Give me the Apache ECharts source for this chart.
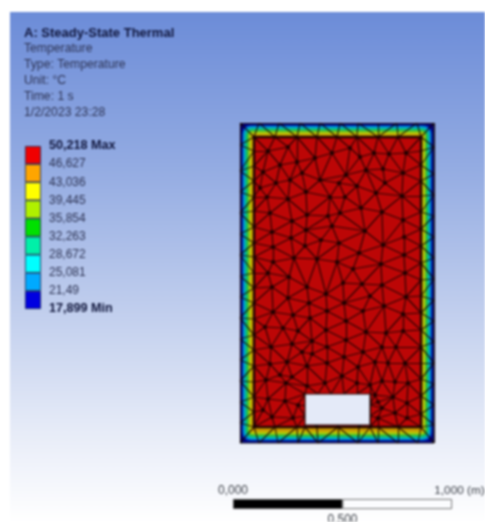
<!DOCTYPE html>
<html>
<head>
<meta charset="utf-8">
<title>Steady-State Thermal</title>
<script src="https://cdn.jsdelivr.net/npm/echarts@6/dist/echarts.min.js"></script>
<style>
  html, body { margin: 0; padding: 0; background: #fff; overflow: hidden; }
  #chart { width: 485px; height: 522px; filter: blur(0.8px); }
</style>
</head>
<body>
<div id="chart"></div>
<script>
var headerLines = ['A: Steady-State Thermal', 'Temperature', 'Type: Temperature', 'Unit: °C', 'Time: 1 s', '1/2/2023 23:28'];

// legend, bottom to top
var tempLabels = ['17,899 Min', '21,49', '25,081', '28,672', '32,263', '35,854', '39,445', '43,036', '46,627', '50,218 Max'];
var binNames = ['b1', 'b2', 'b3', 'b4', 'b5', 'b6', 'b7', 'b8', 'b9'];
var binSizes = [1, 1, 1, 1, 1, 1, 1, 1, 1];

// scale bar, metres
var scaleTicks = [0, 0.5, 1];
var scaleLabels = ['0,000', '0,500', '1,000 (m)'];
var scaleParts = [0.5, 0.5];

// plate outline and isotherm rings, model units (219 units = 1 m): [inset, corner radius]
var plateSize = [194, 320];
var isotherms = [[0, 0], [0.8, 2], [2.4, 8], [3.6, 8], [5, 7], [6.2, 6], [7.6, 5], [9, 3], [10.4, 2], [11.6, 1]];
var coreBox = [14, 16, 181, 306];
var holeBox = [65, 18, 130, 49];

// mesh nodes, same units
var outerNodes = [
  [0,0],[19,0],[38,0],[58,0],[78,0],[98,0],[118,0],[138,0],[158,0],[178,0],[194,0],
  [0,320],[19,320],[39,320],[60,320],[80,320],[100,320],[118,320],[138,320],[157,320],[177,320],[194,320],
  [0,20],[0,41],[0,62],[0,83],[0,104],[0,125],[0,146],[0,167],[0,188],[0,209],[0,230],[0,251],[0,272],[0,298],
  [194,18],[194,38],[194,59],[194,80],[194,101],[194,122],[194,143],[194,164],[194,185],[194,206],[194,227],[194,248],[194,269],[194,296]
];
var innerNodes = [
  [14,16],[35,16],[57,16],[65,16],[77,16],[98,16],[119,16],[130,16],[138,16],[158,16],[181,16],
  [14,306],[35,306],[57,306],[77,306],[97,306],[117,306],[138,306],[158,306],[181,306],
  [14,31],[14,46],[14,61],[14,77],[14,93],[14,108],[14,124],[14,140],[14,155],[14,170],[14,186],[14,200],[14,216],[14,232],[14,246],[14,262],[14,277],[14,292],
  [181,29],[181,47],[181,64],[181,80],[181,96],[181,113],[181,130],[181,147],[181,163],[181,180],[181,197],[181,214],[181,231],[181,247],[181,262],[181,278],[181,292]
];
var holeNodes = [
  [65,49],[78,49],[91,49],[104,49],[117,49],[130,49],
  [65,38],[65,27],[130,38],[130,27]
];
var coreNodes = [
  [28,292],[48,296],[75,285],[92,290],[57,281],[40,278],[23,271],[62,270],[80,263],[99,260],
  [50,263],[36,260],[20,255],[66,251],[90,246],[48,244],[27,246],[30,230],[52,222],[67,228],[88,227],
  [110,295],[120,286],[134,290],[149,289],[166,290],[126,273],[143,274],[163,270],[106,268],[117,257],
  [136,250],[145,260],[162,247],[105,246],[121,235],[142,231],[163,223],[100,230],
  [32,211],[51,205],[66,213],[81,203],[92,217],[125,212],[143,198],[164,206],[33,196],[65,197],[99,200],
  [119,190],[54,185],[33,181],[77,184],[97,181],[141,179],[164,188],[113,174],[165,170],[28,170],[49,166],
  [103,160],[122,159],[142,158],[67,156],[32,156],[86,149],[48,145],[166,146],[130,147],[104,140],[69,140],
  [144,137],[33,131],[87,132],[123,132],[53,128],[163,129],[70,125],[106,122],[25,116],[43,115],[86,113],
  [58,112],[126,111],[163,112],[106,103],[146,110],[72,102],[31,96],[87,96],[142,96],[156,96],[52,99],
  [123,91],[62,91],[72,89],[47,81],[104,86],[30,79],[87,80],[67,77],[135,81],[148,80],[165,80],[118,76],
  [102,67],[52,66],[26,63],[40,68],[67,57],[117,60],[130,58],[142,62],[155,61],[168,60],[85,60],[46,60],
  [28,44],[45,42],[58,38],[32,26],[53,25],[23,33],
  [138,41],[153,46],[167,40],[142,35],[155,30],[138,25],[167,25],[135,48]
];

// colours
var binColors = ['#0000e0', '#00aaff', '#00ffff', '#00f0a8', '#00e000', '#b0f000', '#ffff00', '#ffa500', '#f00000'];
var ringColors = ['#142048', '#000088', '#0060d0', '#00a0d0', '#00c0a0', '#10b858', '#60c020', '#a8c810', '#c8c000', '#c89800'];

// Bowyer-Watson, only to get the edges between the nodes above
function meshEdges(pts) {
  var all = pts.concat([[-2000, -2000], [2400, -2000], [97, 3000]]);
  var n = pts.length;
  var tris = [[n, n + 1, n + 2]];
  function inCircle(t, p) {
    var a = all[t[0]], b = all[t[1]], c = all[t[2]];
    var ax = a[0] - p[0], ay = a[1] - p[1];
    var bx = b[0] - p[0], by = b[1] - p[1];
    var cx = c[0] - p[0], cy = c[1] - p[1];
    var det = (ax * ax + ay * ay) * (bx * cy - cx * by)
      - (bx * bx + by * by) * (ax * cy - cx * ay)
      + (cx * cx + cy * cy) * (ax * by - bx * ay);
    var orient = (b[0] - a[0]) * (c[1] - a[1]) - (b[1] - a[1]) * (c[0] - a[0]);
    return orient > 0 ? det > 0 : det < 0;
  }
  for (var i = 0; i < n; i++) {
    var keep = [], open = {};
    tris.forEach(function (t) {
      if (inCircle(t, pts[i])) {
        [[t[0], t[1]], [t[1], t[2]], [t[2], t[0]]].forEach(function (e) {
          var k = Math.min(e[0], e[1]) + '_' + Math.max(e[0], e[1]);
          open[k] = open[k] ? null : e;
        });
      } else {
        keep.push(t);
      }
    });
    Object.keys(open).forEach(function (k) {
      if (open[k]) keep.push([open[k][0], open[k][1], i]);
    });
    tris = keep;
  }
  var seen = {}, edges = [];
  tris.forEach(function (t) {
    [[t[0], t[1]], [t[1], t[2]], [t[2], t[0]]].forEach(function (e) {
      if (e[0] >= n || e[1] >= n) return;
      var k = Math.min(e[0], e[1]) + '_' + Math.max(e[0], e[1]);
      if (seen[k]) return;
      seen[k] = true;
      edges.push({ coords: [pts[e[0]], pts[e[1]]] });
    });
  });
  return edges;
}

var allNodes = outerNodes.concat(innerNodes, holeNodes, coreNodes);
var font = '"Liberation Sans", Arial, sans-serif';

function boxItem(box, style) {
  return function (params, api) {
    var a = api.coord([box[0], box[3]]);
    var b = api.coord([box[2], box[1]]);
    return { type: 'rect', shape: { x: a[0], y: a[1], width: b[0] - a[0], height: b[1] - a[1] }, style: style };
  };
}

var series = [
  {
    type: 'custom', xAxisIndex: 0, yAxisIndex: 0, silent: true, z: 3, clip: false,
    data: isotherms,
    renderItem: function (params, api) {
      var inset = api.value(0);
      var a = api.coord([inset, plateSize[1] - inset]);
      var b = api.coord([plateSize[0] - inset, inset]);
      return {
        type: 'rect',
        shape: { x: a[0], y: a[1], width: b[0] - a[0], height: b[1] - a[1], r: api.value(1) },
        style: { fill: ringColors[params.dataIndex] }
      };
    }
  },
  {
    type: 'custom', xAxisIndex: 0, yAxisIndex: 0, silent: true, z: 4, clip: false,
    data: [0],
    renderItem: boxItem(coreBox, { fill: '#bc0606', stroke: '#300a06', lineWidth: 2.4 })
  },
  {
    type: 'lines', coordinateSystem: 'cartesian2d', xAxisIndex: 0, yAxisIndex: 0, silent: true, z: 5,
    data: meshEdges(allNodes),
    lineStyle: { color: 'rgba(20,4,4,0.85)', width: 1.2, opacity: 1 },
    effect: { show: false }
  },
  {
    type: 'scatter', xAxisIndex: 0, yAxisIndex: 0, silent: true, z: 6,
    data: coreNodes, symbolSize: 4.5,
    itemStyle: { color: 'rgba(24,2,2,0.85)' }
  },
  {
    type: 'custom', xAxisIndex: 0, yAxisIndex: 0, silent: true, z: 7, clip: false,
    data: [0],
    renderItem: boxItem(holeBox, { fill: '#e4eaf8', stroke: '#20100c', lineWidth: 1.2 })
  }
];

binNames.forEach(function (name, i) {
  series.push({
    type: 'bar', name: name, stack: 'legend', xAxisIndex: 1, yAxisIndex: 1, silent: true,
    barWidth: 16, data: [binSizes[i]],
    itemStyle: { color: binColors[i], borderColor: '#1c2a50', borderWidth: 0.8 }
  });
});

scaleParts.forEach(function (part, i) {
  series.push({
    type: 'bar', stack: 'scale', xAxisIndex: 2, yAxisIndex: 2, silent: true,
    barWidth: 10, data: [part],
    itemStyle: { color: i === 0 ? '#000' : '#fbfcfe', borderColor: '#555', borderWidth: 0.8 }
  });
});

var graphicItems = [{
  type: 'rect', z: 0, silent: true,
  shape: { x: 10, y: 12, width: 475, height: 510 },
  style: {
    fill: new echarts.graphic.LinearGradient(0, 0, 0, 1, [
      { offset: 0, color: '#6c8cd8' },
      { offset: 0.3, color: '#93abe2' },
      { offset: 0.6, color: '#c3d0ee' },
      { offset: 0.85, color: '#ebeff9' },
      { offset: 1, color: '#ffffff' }
    ])
  }
}];
headerLines.forEach(function (line, i) {
  graphicItems.push({
    type: 'text', z: 1, silent: true, x: 24, y: i === 0 ? 33 : 33 + i * 16,
    style: {
      text: line, fill: i === 0 ? '#10163c' : '#2c3252',
      font: (i === 0 ? 'bold 13px ' : '12.2px ') + font,
      textVerticalAlign: 'middle'
    }
  });
});

var option = {
  animation: false,
  backgroundColor: '#fff',
  graphic: graphicItems,
  // outerBoundsMode none: otherwise the grids shrink to keep the labels inside the page
  grid: [
    { left: 240, top: 123, width: 194, height: 320, outerBoundsMode: 'none' },
    { left: 25, top: 146, width: 16, height: 163, outerBoundsMode: 'none' },
    { left: 233, top: 499, width: 219, height: 10, outerBoundsMode: 'none' }
  ],
  xAxis: [
    { type: 'value', gridIndex: 0, min: 0, max: plateSize[0], show: false },
    { type: 'category', gridIndex: 1, data: ['T'], show: false },
    {
      type: 'value', gridIndex: 2, position: 'top', min: 0, max: 1, interval: 0.5,
      splitLine: { show: false }, axisLine: { show: false }, axisTick: { show: false },
      axisLabel: {
        margin: 2, hideOverlap: false, showMinLabel: true, showMaxLabel: true,
        color: '#3c4048', fontFamily: font, fontSize: 12,
        formatter: function (v) {
          if (v === scaleTicks[1]) return '';
          return v === scaleTicks[2] ? '{m|' + scaleLabels[2] + '}' : scaleLabels[0];
        },
        rich: { m: { color: '#3c4048', fontFamily: font, fontSize: 11.8, padding: [0, 0, 0, 15] } }
      }
    },
    {
      type: 'value', gridIndex: 2, position: 'bottom', min: 0, max: 1, interval: 0.5,
      splitLine: { show: false }, axisLine: { show: false }, axisTick: { show: false },
      axisLabel: {
        margin: 5, color: '#3c4048', fontFamily: font, fontSize: 12,
        formatter: function (v) { return v === scaleTicks[1] ? scaleLabels[1] : ''; }
      }
    }
  ],
  yAxis: [
    { type: 'value', gridIndex: 0, min: 0, max: plateSize[1], show: false },
    {
      type: 'value', gridIndex: 1, position: 'right', min: 0, max: 9, interval: 1,
      splitLine: { show: false }, axisLine: { show: false }, axisTick: { show: false },
      axisLabel: {
        margin: 8, align: 'left', showMinLabel: true, showMaxLabel: true,
        color: '#2c3252', fontFamily: font, fontSize: 12,
        formatter: function (v) {
          var s = tempLabels[v];
          return v === 0 || v === 9 ? '{b|' + s + '}' : s;
        },
        rich: { b: { color: '#10163c', fontFamily: font, fontSize: 12.6, fontWeight: 'bold' } }
      }
    },
    { type: 'category', gridIndex: 2, data: ['scale'], show: false }
  ],
  series: series
};

var myChart = echarts.init(document.getElementById('chart'), null, { renderer: 'canvas' });
myChart.setOption(option);
</script>
</body>
</html>
